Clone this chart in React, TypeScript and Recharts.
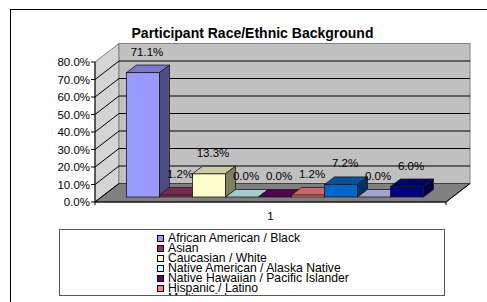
import React from 'react';
import { BarChart, Bar, XAxis, YAxis, ReferenceArea, LabelList } from 'recharts';

const categories = ['1'];
const seriesNames = [
  'African American / Black',
  'Asian',
  'Caucasian / White',
  'Native American / Alaska Native',
  'Native Hawaiian / Pacific Islander',
  'Hispanic / Latino',
  'Multi-racial',
  'Other',
  'Declined to State',
];
const seriesValues = [71.1, 1.2, 13.3, 0.0, 0.0, 1.2, 7.2, 0.0, 6.0];
const seriesColors = ['#9999FF', '#993366', '#FFFFCC', '#CCFFFF', '#660066', '#FF8080', '#0066CC', '#CCCCFF', '#000080'];
const yTicks = [0, 10, 20, 30, 40, 50, 60, 70, 80];
const titleText = 'Participant Race/Ethnic Background';

const data = categories.map((c) => {
  const row: Record<string, any> = { cat: c };
  seriesNames.forEach((_, i) => {
    row['s' + i] = seriesValues[i];
  });
  return row;
});

const FONT = 'Arial, "Liberation Sans", sans-serif';
// wall depth
const WX = 24;
const WY = 18.5;
// bar placement depth
const BX = 6.5;
const BY = -5;
const DX = 10;
const DY = -7.5;

function shade(hex: string, f: number) {
  const n = parseInt(hex.slice(1), 16);
  const r = Math.round(((n >> 16) & 255) * f);
  const g = Math.round(((n >> 8) & 255) * f);
  const b = Math.round((n & 255) * f);
  return `rgb(${r},${g},${b})`;
}

const Walls = (props: any) => {
  const { x, y, width: w, height: h } = props;
  const lines = yTicks.slice(1, -1).map((v) => y + h * (1 - v / yTicks[yTicks.length - 1]));
  return (
    <g>
      <polygon
        points={`${x},${y} ${x + WX},${y - WY} ${x + WX},${y + h - WY} ${x},${y + h}`}
        fill="#D4D4D4"
        stroke="#808080"
        strokeWidth={1}
      />
      <rect x={x + WX} y={y - WY} width={w} height={h} fill="#C0C0C0" stroke="#808080" strokeWidth={1} />
      {lines.map((ly, i) => (
        <g key={i}>
          <line x1={x + WX} y1={ly - WY} x2={x + WX + w} y2={ly - WY} stroke="#000" strokeWidth={1} />
          <line x1={x} y1={ly} x2={x + WX} y2={ly - WY} stroke="#000" strokeWidth={1} />
        </g>
      ))}
      <polygon
        points={`${x},${y + h} ${x + WX},${y + h - WY} ${x + w + WX},${y + h - WY} ${x + w},${y + h}`}
        fill="#808080"
        stroke="#404040"
        strokeWidth={1}
      />
      <line x1={x} y1={y + h} x2={x + WX} y2={y + h - WY} stroke="#000" strokeWidth={1} />
      <line x1={x + w} y1={y + h} x2={x + w + WX} y2={y + h - WY} stroke="#000" strokeWidth={1} />
      <line x1={x + w} y1={y + h} x2={x + w} y2={y + h + 3} stroke="#000" strokeWidth={1} />
      <line x1={x} y1={y + h} x2={x} y2={y + h + 3} stroke="#000" strokeWidth={1} />
    </g>
  );
};

const Box3D = (props: any) => {
  const { x, y, width: w, height, fill } = props;
  const h = Math.max(0, height || 0);
  const fx = x + BX;
  const fy = y + BY;
  const sw = 0.8;
  const st = '#1a1a1a';
  return (
    <g>
      <rect x={fx} y={fy} width={w} height={h} fill={fill} stroke={st} strokeWidth={sw} />
      <polygon
        points={`${fx},${fy} ${fx + DX},${fy + DY} ${fx + w + DX},${fy + DY} ${fx + w},${fy}`}
        fill={shade(fill, 0.8)}
        stroke={st}
        strokeWidth={sw}
      />
      <polygon
        points={`${fx + w},${fy} ${fx + w + DX},${fy + DY} ${fx + w + DX},${fy + h + DY} ${fx + w},${fy + h}`}
        fill={shade(fill, 0.5)}
        stroke={st}
        strokeWidth={sw}
      />
    </g>
  );
};

const renderLabel = (p: any) => {
  const { x, y, width, value } = p;
  return (
    <text
      x={x + width / 2 + BX + 4}
      y={y + BY - 21}
      dy={4}
      textAnchor="middle"
      fontSize={11.5}
      fontFamily={FONT}
      fill="#000"
    >
      {Number(value).toFixed(1) + '%'}
    </text>
  );
};

const XTick = (p: any) => {
  const { x, y, payload } = p;
  return (
    <text x={x} y={y} dy={18} textAnchor="middle" fontSize={11.5} fontFamily={FONT} fill="#000">
      {payload.value}
    </text>
  );
};

export default function App() {
  return (
    <div style={{ position: 'absolute', left: 0, top: 0, width: 487, height: 302, overflow: 'hidden', background: '#fff' }}>
      <div
        style={{
          position: 'absolute',
          left: 10,
          top: 9,
          width: 600,
          height: 400,
          border: '1px solid #000',
          boxSizing: 'border-box',
        }}
      />
      <div
        style={{
          position: 'absolute',
          left: 0,
          width: 487,
          top: 25,
          textAlign: 'center',
          paddingLeft: 18,
          boxSizing: 'border-box',
          fontFamily: FONT,
          fontWeight: 'bold',
          fontSize: 14,
          lineHeight: '16px',
          color: '#000',
        }}
      >
        {titleText}
      </div>
      <div style={{ position: 'absolute', left: 0, top: 0 }}>
        <BarChart
          width={487}
          height={302}
          data={data}
          margin={{ top: 62, right: 41, bottom: 70, left: 10 }}
          barCategoryGap={25}
          barGap={0}
        >
          <ReferenceArea y1={0} y2={80} ifOverflow="visible" shape={Walls} />
          <XAxis
            dataKey="cat"
            height={30}
            axisLine={{ stroke: '#000', strokeWidth: 1 }}
            tickLine={false}
            tickSize={0}
            tickMargin={0}
            tick={<XTick />}
          />
          <YAxis
            type="number"
            domain={[0, 80]}
            ticks={yTicks}
            interval={0}
            width={85}
            tickFormatter={(v: number) => v.toFixed(1) + '%'}
            axisLine={{ stroke: '#000', strokeWidth: 1 }}
            tickLine={{ stroke: '#000', strokeWidth: 1 }}
            tickSize={4}
            tickMargin={1}
            tick={{ fontSize: 11.5, fontFamily: FONT, fill: '#000' }}
          />
          {seriesNames.map((n, i) => (
            <Bar key={n} dataKey={'s' + i} name={n} fill={seriesColors[i]} shape={Box3D} isAnimationActive={false}>
              <LabelList dataKey={'s' + i} content={renderLabel} />
            </Bar>
          ))}
        </BarChart>
      </div>
      <div
        style={{
          position: 'absolute',
          left: 59,
          top: 229,
          width: 386,
          height: 67,
          border: '1px solid #555',
          boxSizing: 'border-box',
          overflow: 'hidden',
          background: '#fff',
          paddingTop: 3,
          paddingLeft: 97,
          fontFamily: FONT,
          fontSize: 12.2,
          color: '#000',
        }}
      >
        {seriesNames.map((n, i) => (
          <div key={n} style={{ height: 10, lineHeight: '10px', display: 'flex', alignItems: 'center', whiteSpace: 'nowrap' }}>
            <span
              style={{
                display: 'inline-block',
                width: 7,
                height: 7,
                boxSizing: 'border-box',
                border: '1px solid #000',
                background: seriesColors[i],
                marginRight: 4,
                flex: 'none',
              }}
            />
            <span>{n}</span>
          </div>
        ))}
      </div>
    </div>
  );
}
